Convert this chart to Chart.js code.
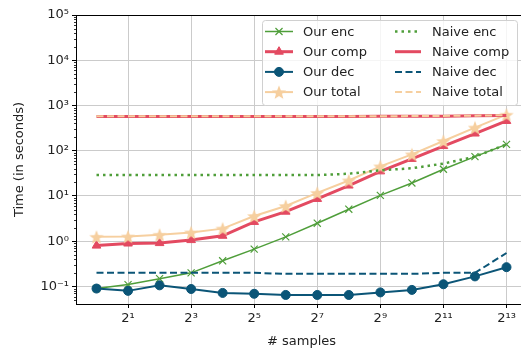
<!DOCTYPE html>
<html>
<head>
<meta charset="utf-8">
<script src="https://cdn.jsdelivr.net/npm/chart.js@4.4.1/dist/chart.umd.min.js"></script>
<style>
  html, body { margin: 0; padding: 0; background: #fff; overflow: hidden; }
  #wrap { width: 521px; height: 349px; overflow: hidden; }
</style>
</head>
<body>
<div id="wrap"><canvas id="myChart" width="537" height="349"></canvas></div>
<script>
// x values are the exponents of 2 (# samples = 2^n)
const exps = [0, 1, 2, 3, 4, 5, 6, 7, 8, 9, 10, 11, 12, 13];
const xTicks = [1, 3, 5, 7, 9, 11, 13];
const yTicks = [0.1, 1, 10, 100, 1000, 10000, 100000];

const ourEnc   = [0.09, 0.11, 0.149, 0.20, 0.37, 0.67, 1.25, 2.5, 5.1, 10.3, 19.4, 39, 74, 138];
const ourComp  = [0.80, 0.89, 0.91, 1.06, 1.32, 2.67, 4.5, 8.6, 17, 35, 66, 127, 240, 455];
const ourDec   = [0.090, 0.080, 0.106, 0.088, 0.072, 0.069, 0.065, 0.065, 0.065, 0.074, 0.084, 0.112, 0.167, 0.267];
const ourTotal = [1.25, 1.27, 1.39, 1.56, 1.9, 3.6, 6.0, 11.7, 22, 45, 83, 164, 325, 626];

const naiveEnc   = [29, 29, 29, 29, 29, 29, 29, 29, 31, 37, 41, 52, 74, 138];
const naiveComp  = [570, 570, 570, 570, 570, 570, 570, 570, 572, 575, 578, 582, 590, 600];
const naiveDec   = [0.20, 0.20, 0.20, 0.20, 0.20, 0.20, 0.19, 0.19, 0.19, 0.19, 0.19, 0.20, 0.20, 0.55];
const naiveTotal = [575, 575, 575, 575, 575, 575, 575, 575, 577, 580, 583, 588, 596, 610];

const green = '#4f9e3a';
const red = '#e34a61';
const blue = '#0b5577';
const wheat = '#f6cf9f';

const sup = {'-': '⁻', '0': '⁰', '1': '¹', '2': '²', '3': '³', '4': '⁴', '5': '⁵', '6': '⁶', '7': '⁷', '8': '⁸', '9': '⁹'};
function toSup(n) {
  return String(n).split('').map(c => sup[c]).join('');
}

function pts(arr) {
  return exps.map((e, i) => ({x: e, y: arr[i]}));
}

// filled star marker like matplotlib '*'
function makeStar(size, color) {
  const c = document.createElement('canvas');
  c.width = size; c.height = size;
  const g = c.getContext('2d');
  const cx = size / 2, cy = size / 2 + 0.8;
  const ro = size / 2 - 0.5, ri = ro * 0.42;
  g.beginPath();
  for (let i = 0; i < 10; i++) {
    const r = i % 2 === 0 ? ro : ri;
    const a = -Math.PI / 2 + i * Math.PI / 5;
    g.lineTo(cx + r * Math.cos(a), cy + r * Math.sin(a));
  }
  g.closePath();
  g.fillStyle = color;
  g.fill();
  return c;
}
const starImg = makeStar(16, wheat);

const font = {family: '"DejaVu Sans", sans-serif', size: 13};

const minorTicks = {
  id: 'minorTicks',
  afterDraw(chart) {
    const ctx = chart.ctx;
    const y = chart.scales.y;
    const area = chart.chartArea;
    ctx.save();
    ctx.strokeStyle = '#000';
    ctx.lineWidth = 0.8;
    for (let k = -2; k <= 5; k++) {
      for (let m = 2; m <= 9; m++) {
        const v = m * Math.pow(10, k);
        if (v < y.min || v > y.max) continue;
        const py = Math.round(y.getPixelForValue(v)) + 0.5;
        ctx.beginPath();
        ctx.moveTo(area.left - 2, py);
        ctx.lineTo(area.left, py);
        ctx.stroke();
      }
    }
    // top spine and right spine
    ctx.lineWidth = 1;
    ctx.beginPath();
    ctx.moveTo(area.left, area.top + 0.5);
    ctx.lineTo(area.right, area.top + 0.5);
    ctx.lineTo(area.right - 0.5, area.bottom);
    ctx.stroke();
    ctx.restore();
  }
};

const boxLegend = {
  id: 'boxLegend',
  afterDraw(chart) {
    const ctx = chart.ctx;
    const area = chart.chartArea;
    const bx = 262.5, by = area.top + 5.5, bw = 255, bh = 85;
    ctx.save();
    ctx.fillStyle = 'rgba(255,255,255,0.8)';
    ctx.strokeStyle = '#d0d0d0';
    ctx.lineWidth = 1;
    ctx.beginPath();
    ctx.roundRect(bx, by, bw, bh, 3);
    ctx.fill();
    ctx.stroke();

    const cols = [[0, 1, 2, 3], [4, 5, 6, 7]];
    const colX = [{x1: 265, x2: 293, tx: 303}, {x1: 395, x2: 421, tx: 432}];
    ctx.font = '13px "DejaVu Sans", sans-serif';
    ctx.textBaseline = 'middle';
    cols.forEach((col, ci) => {
      col.forEach((di, ri) => {
        const ds = chart.data.datasets[di];
        const yy = by + 11 + ri * 20.2;
        const c = colX[ci];
        ctx.save();
        ctx.strokeStyle = ds.borderColor;
        ctx.lineWidth = ds.borderWidth;
        ctx.setLineDash(ds.borderDash || []);
        ctx.beginPath();
        ctx.moveTo(c.x1, yy);
        ctx.lineTo(c.x2, yy);
        ctx.stroke();
        ctx.restore();
        if (ds.pointRadius > 0) {
          ctx.save();
          ctx.fillStyle = ds.backgroundColor;
          ctx.strokeStyle = ds.borderColor;
          ctx.lineWidth = ds.pointBorderWidth || 1;
          Chart.helpers.drawPoint(ctx, {
            pointStyle: ds.pointStyle,
            radius: ds.pointRadius,
            rotation: 0,
            borderWidth: ds.pointBorderWidth || 1
          }, (c.x1 + c.x2) / 2, yy);
          ctx.restore();
        }
        ctx.fillStyle = '#222';
        ctx.fillText(ds.label, c.tx, yy + 1);
      });
    });
    ctx.restore();
  }
};

const ctxEl = document.getElementById('myChart');

let myChart = new Chart(ctxEl, {
  type: 'line',
  data: {
    datasets: [
      {label: 'Our enc', data: pts(ourEnc), borderColor: green, backgroundColor: green,
       borderWidth: 1.5, pointStyle: 'crossRot', pointRadius: 5, pointBorderWidth: 1.2, order: 7},
      {label: 'Our comp', data: pts(ourComp), borderColor: red, backgroundColor: red,
       borderWidth: 3, pointStyle: 'triangle', pointRadius: 5, pointBorderWidth: 1, order: 6},
      {label: 'Our dec', data: pts(ourDec), borderColor: blue, backgroundColor: blue,
       borderWidth: 2, pointStyle: 'circle', pointRadius: 4.5, pointBorderWidth: 1, order: 5},
      {label: 'Our total', data: pts(ourTotal), borderColor: wheat, backgroundColor: wheat,
       borderWidth: 2, pointStyle: starImg, pointRadius: 8, order: 4},
      {label: 'Naive enc', data: pts(naiveEnc), borderColor: green, borderWidth: 2.5,
       borderDash: [2.5, 4], pointRadius: 0, order: 3},
      {label: 'Naive comp', data: pts(naiveComp), borderColor: red, borderWidth: 3,
       pointRadius: 0, order: 2},
      {label: 'Naive dec', data: pts(naiveDec), borderColor: blue, borderWidth: 2,
       borderDash: [7, 3.5], pointRadius: 0, order: 1},
      {label: 'Naive total', data: pts(naiveTotal), borderColor: wheat, borderWidth: 2,
       borderDash: [7, 3.5], pointRadius: 0, order: 0}
    ]
  },
  options: {
    responsive: false,
    animation: false,
    devicePixelRatio: 1,
    layout: {padding: {top: 15, right: 0, left: 0, bottom: 0}},
    elements: {line: {tension: 0}},
    plugins: {
      legend: {display: false},
      tooltip: {enabled: false}
    },
    scales: {
      x: {
        type: 'linear',
        min: -0.65,
        max: 13.65,
        afterBuildTicks: (scale) => { scale.ticks = xTicks.map(v => ({value: v})); },
        afterFit: (scale) => { scale.height = 45; },
        ticks: {
          autoSkip: false, maxRotation: 0, padding: 3,
          color: '#222', font: font,
          callback: (v) => '2' + toSup(v)
        },
        grid: {color: '#cbcbcb', lineWidth: 1, tickLength: 4, tickColor: '#000'},
        border: {color: '#000', width: 1},
        title: {display: true, text: '# samples', color: '#222', font: font, padding: {top: 0, bottom: 0}}
      },
      y: {
        type: 'logarithmic',
        min: 0.041,
        max: 100000,
        afterBuildTicks: (scale) => { scale.ticks = yTicks.map(v => ({value: v})); },
        afterFit: (scale) => { scale.width = 76; },
        ticks: {
          autoSkip: false, padding: 3,
          color: '#222', font: font,
          callback: (v) => '10' + toSup(Math.round(Math.log10(v)))
        },
        grid: {color: '#cbcbcb', lineWidth: 1, tickLength: 4, tickColor: '#000'},
        border: {color: '#000', width: 1},
        title: {display: true, text: 'Time (in seconds)', color: '#222', font: font, padding: {top: 12, bottom: 0}}
      }
    }
  },
  plugins: [minorTicks, boxLegend]
});
</script>
</body>
</html>
